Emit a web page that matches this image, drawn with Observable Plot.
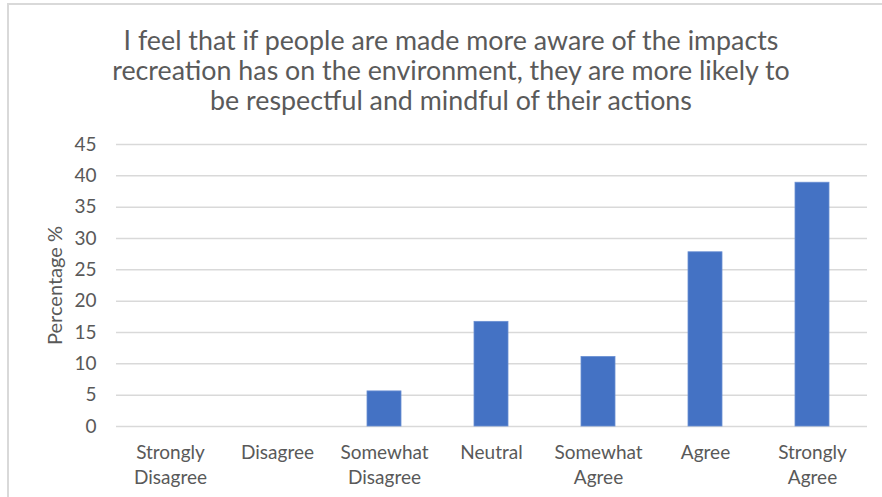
<!DOCTYPE html>
<html>
<head>
<meta charset="utf-8">
<script src="https://cdn.jsdelivr.net/npm/d3@7"></script>
<script src="https://cdn.jsdelivr.net/npm/@observablehq/plot@0.6"></script>
<style>
  html, body { margin: 0; padding: 0; background: #fff; }
  #wrap { position: relative; width: 882px; height: 497px; overflow: hidden; font-family: Lato, "Open Sans", sans-serif; }
  #frame { position: absolute; left: 7px; top: 3px; width: 900px; height: 520px; border-left: 2px solid #d9d9d9; border-top: 2px solid #d9d9d9; box-sizing: border-box; }
  #title { position: absolute; left: 0; top: 25px; width: 902px; text-align: center; color: #5a5a5a; font-size: 26.8px; line-height: 30px; }
  #chart { position: absolute; left: 0; top: 0; }
</style>
</head>
<body>
<div id="wrap">
  <div id="frame"></div>
  <div id="chart"></div>
  <div id="title">I feel that if people are made more aware of the impacts<br>recreation has on the environment, they are more likely to<br>be respectful and mindful of their actions</div>
</div>
<script>
const categories = ["Strongly Disagree", "Disagree", "Somewhat Disagree", "Neutral", "Somewhat Agree", "Agree", "Strongly Agree"];
const values = [0, 0, 5.6, 16.7, 11.1, 27.8, 38.9];
const yTicks = [0, 5, 10, 15, 20, 25, 30, 35, 40, 45];
const yLabel = "Percentage %";

const data = categories.map((c, i) => ({category: c, value: values[i]}));

const chart = Plot.plot({
  width: 882,
  height: 497,
  marginTop: 144,
  marginBottom: 71,
  marginLeft: 116,
  marginRight: 15,
  style: {fontFamily: "Lato, 'Open Sans', sans-serif", fontSize: "19px", color: "#595959", background: "transparent"},
  x: {domain: categories, paddingInner: 0.68, paddingOuter: 0.34, label: null},
  y: {domain: [0, 45], ticks: yTicks, label: null},
  marks: [
    Plot.ruleY(yTicks, {stroke: "#d9d9d9", strokeWidth: 1.5}),
    Plot.barY(data, {x: "category", y: "value", fill: "#4472C4", stroke: "#6a8fd3", strokeWidth: 0.8}),
    Plot.axisY({ticks: yTicks, tickSize: 0, tickPadding: 20, fontSize: 19, fill: "#595959", label: null}),
    Plot.axisX({tickSize: 0, tickPadding: 15, fontSize: 19, fill: "#595959", label: null,
      tickFormat: d => d.replace(" ", "\n"), lineHeight: 1.3}),
    Plot.text([yLabel], {frameAnchor: "left", textAnchor: "middle", dx: -61, rotate: -90, fontSize: 20, fill: "#595959"})
  ]
});
document.getElementById("chart").appendChild(chart);
</script>
</body>
</html>
